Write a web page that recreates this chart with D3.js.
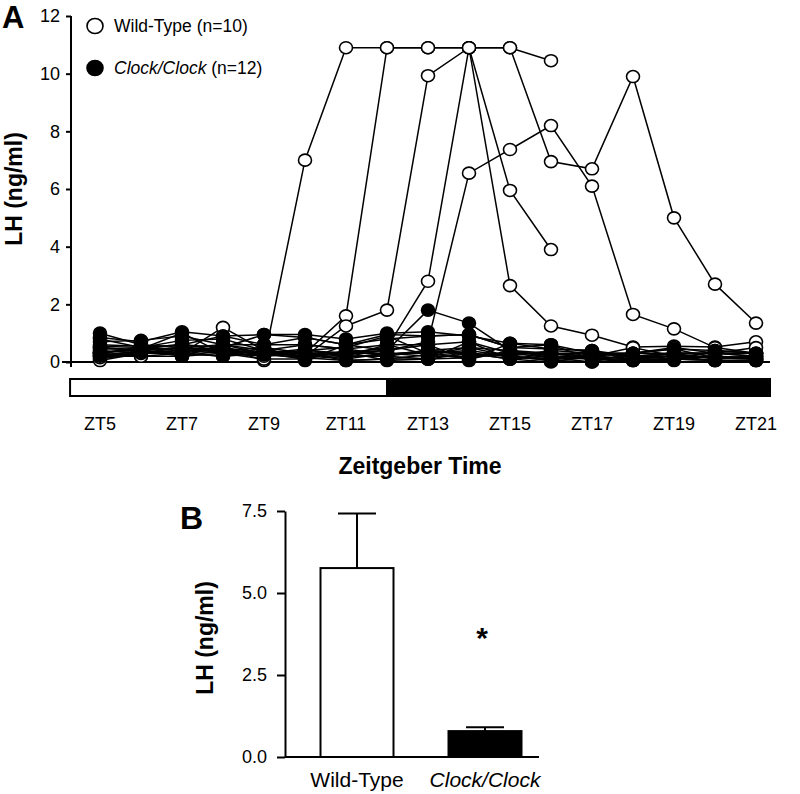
<!DOCTYPE html>
<html><head><meta charset="utf-8">
<script src="https://cdn.jsdelivr.net/npm/d3@7"></script>
<style>
html,body{margin:0;padding:0;background:#fff;}
svg{display:block;font-family:"Liberation Sans",Arial,Helvetica,sans-serif;}
</style></head>
<body><svg id="chart" width="800" height="794"></svg>
<script>
// ---------- DATA ----------
const hours = [5,6,7,8,9,10,11,12,13,14,15,16,17,18,19,20,21];
const xTickHours = [5,7,9,11,13,15,17,19,21];
const xTickLabels = ["ZT5","ZT7","ZT9","ZT11","ZT13","ZT15","ZT17","ZT19","ZT21"];
const yTicksA = [0,2,4,6,8,10,12];
const darkStart = 12;      // lights off at ZT12
const barSpan = [4.27, 21.34];

// Wild-type individual LH profiles (ng/ml); null = not sampled
const wt1  = [0.3,0.5,0.4,0.5,0.05,7.0,10.9,10.9,10.9,10.9,10.9,10.45,null,null,null,null,null];
const wt2  = [0.1,0.3,0.4,0.4,0.3,0.3,1.6,10.9,10.9,10.9,5.95,3.9,null,null,null,null,null];
const wt3  = [0.2,0.4,0.5,0.6,0.4,0.2,1.25,1.8,9.93,10.9,2.65,1.25,0.93,0.52,0.55,0.52,0.7];
const wt4  = [0.05,0.3,0.3,1.2,0.4,0.3,0.3,0.5,2.8,10.9,10.9,6.95,6.7,9.9,5.0,2.7,1.35];
const wt5  = [0.3,0.5,0.6,0.4,0.3,0.4,0.3,0.4,0.7,6.55,7.37,8.2,6.1,1.65,1.15,0.5,0.3];
const wt6  = [0.4,0.3,0.5,0.3,0.2,0.4,0.5,0.9,0.3,0.4,0.2,0.1,0.2,0.5,0.2,0.2,0.15];
const wt7  = [0.2,0.2,0.3,0.2,0.3,0.2,0.3,0.3,0.2,0.2,0.3,0.3,0.3,0.3,0.5,0.3,0.3];
const wt8  = [0.5,0.4,0.2,0.3,0.1,0.1,0.2,0.2,0.4,0.3,0.1,0.2,0.1,0.2,0.3,0.1,0.2];
const wt9  = [0.15,0.35,0.25,0.5,0.2,0.3,0.1,0.3,0.3,0.1,0.4,0.2,0.2,0.1,0.1,0.2,0.1];
const wt10 = [0.3,0.2,0.2,0.4,0.3,0.1,0.4,0.2,0.1,0.3,0.2,0.4,0.3,0.2,0.2,0.3,0.5];
const wildType = [wt1,wt2,wt3,wt4,wt5,wt6,wt7,wt8,wt9,wt10];

// Clock/Clock individual LH profiles (ng/ml)
const ck1  = [1.0,0.6,0.5,0.4,0.5,0.3,0.35,0.4,1.8,1.35,0.4,0.3,0.2,0.1,0.2,0.15,0.1];
const ck2  = [0.85,0.7,1.05,0.9,0.95,0.95,0.8,1.0,1.05,0.9,0.65,0.6,0.3,0.3,0.45,0.4,0.3];
const ck3  = [0.7,0.75,0.9,0.6,0.6,0.85,0.6,0.8,0.9,0.95,0.5,0.45,0.4,0.2,0.3,0.3,0.2];
const ck4  = [0.55,0.5,0.75,0.8,0.4,0.6,0.45,0.6,0.6,0.7,0.3,0.15,0.1,0.05,0.1,0.05,0.05];
const ck5  = [0.45,0.45,0.6,0.5,0.3,0.45,0.2,0.25,0.4,0.5,0.2,0.05,0.0,0.1,0.2,0.15,0.1];
const ck6  = [0.35,0.4,0.5,0.4,0.25,0.3,0.05,0.1,0.25,0.3,0.1,0.0,0.2,0.3,0.3,0.3,0.2];
const ck7  = [0.25,0.35,0.4,0.3,0.4,0.15,0.35,0.05,0.1,0.15,0.3,0.3,0.1,0.2,0.1,0.05,0.05];
const ck8  = [0.2,0.3,0.3,0.2,0.5,0.05,0.6,0.4,0.6,0.05,0.65,0.45,0.4,0.05,0.05,0.4,0.3];
const ck9  = [0.6,0.55,0.2,0.6,0.3,0.3,0.2,0.6,0.25,0.5,0.4,0.15,0.0,0.3,0.45,0.15,0.2];
const ck10 = [0.8,0.5,0.6,0.9,0.6,0.6,0.45,0.25,0.4,0.3,0.2,0.05,0.3,0.2,0.2,0.05,0.05];
const ck11 = [0.3,0.45,1.0,0.3,0.25,0.15,0.05,0.1,0.1,0.7,0.1,0.3,0.2,0.1,0.3,0.3,0.3];
const ck12 = [0.5,0.4,0.3,0.5,0.95,0.85,0.6,0.95,0.9,0.95,0.5,0.6,0.1,0.05,0.1,0.2,0.1];
const clockClock = [ck1,ck2,ck3,ck4,ck5,ck6,ck7,ck8,ck9,ck10,ck11,ck12];

// Panel B
const groups = ["Wild-Type","Clock/Clock"];
const means = [5.76, 0.79];
const sems = [1.66, 0.12];
const yTicksB = [0,2.5,5,7.5];

// ---------- DRAW ----------
const svg = d3.select("#chart");
const black = "#000";

// ===== Panel A =====
const xA = d3.scaleLinear().domain([5,21]).range([100,756]);
const yA = d3.scaleLinear().domain([0,12]).range([362,16]);

svg.append("text").attr("x",2).attr("y",28).attr("font-size",31).attr("font-weight","bold").text("A");

// y axis
const gyA = svg.append("g").attr("transform",`translate(${xA(5)-29},0)`)
  .call(d3.axisLeft(yA).tickValues(yTicksA).tickFormat(d3.format("d")).tickSize(5).tickSizeOuter(0).tickPadding(6));
gyA.select(".domain").attr("stroke-width",2).attr("d",`M0,${yA(12)}V${yA(0)+5}`);
gyA.selectAll(".tick line").attr("stroke-width",2);
gyA.selectAll("text").attr("font-size",18).attr("fill",black).attr("font-family","Liberation Sans, Arial, sans-serif");

// x axis baseline
svg.append("line").attr("x1",xA(5)-38).attr("x2",xA(barSpan[1])).attr("y1",yA(0)).attr("y2",yA(0))
  .attr("stroke",black).attr("stroke-width",2);

svg.append("text").attr("transform",`translate(22,${(yA(12)+yA(0))/2}) rotate(-90)`)
  .attr("text-anchor","middle").attr("font-size",23).attr("font-weight","bold").text("LH (ng/ml)");

// light/dark bar
svg.append("rect").attr("x",xA(barSpan[0])).attr("y",379).attr("width",xA(barSpan[1])-xA(barSpan[0])).attr("height",17)
  .attr("fill","#fff").attr("stroke",black).attr("stroke-width",2);
svg.append("rect").attr("x",xA(darkStart)).attr("y",379).attr("width",xA(barSpan[1])-xA(darkStart)).attr("height",17)
  .attr("fill",black).attr("stroke",black).attr("stroke-width",2);

// x tick labels
svg.selectAll(".ztl").data(xTickHours).enter().append("text")
  .attr("x",d=>xA(d)).attr("y",430).attr("text-anchor","middle").attr("font-size",18)
  .text((d,i)=>xTickLabels[i]);

svg.append("text").attr("x",420).attr("y",474).attr("text-anchor","middle").attr("font-size",23)
  .attr("font-weight","bold").text("Zeitgeber Time");

// lines
const line = d3.line().defined(d=>d.v!=null).x(d=>xA(d.h)).y(d=>yA(d.v));
const toPts = s => s.map((v,i)=>({h:hours[i],v:v}));
const gLines = svg.append("g");
gLines.selectAll(".wtl").data(wildType).enter().append("path")
  .attr("d",s=>line(toPts(s))).attr("fill","none").attr("stroke",black).attr("stroke-width",1.5);
gLines.selectAll(".ckl").data(clockClock).enter().append("path")
  .attr("d",s=>line(toPts(s))).attr("fill","none").attr("stroke",black).attr("stroke-width",1.5);

// markers
function markers(series, fill){
  const g = svg.append("g");
  series.forEach(s=>{
    g.selectAll(null).data(toPts(s).filter(d=>d.v!=null)).enter().append("ellipse")
      .attr("cx",d=>xA(d.h)).attr("cy",d=>yA(d.v)).attr("rx",6.5).attr("ry",6)
      .attr("fill",fill).attr("stroke",black).attr("stroke-width",1.6);
  });
}
markers(wildType,"#fff");
markers(clockClock,black);

// legend
svg.append("ellipse").attr("cx",95).attr("cy",26).attr("rx",8).attr("ry",7.5).attr("fill","#fff").attr("stroke",black).attr("stroke-width",1.6);
svg.append("ellipse").attr("cx",95).attr("cy",68).attr("rx",8).attr("ry",7.5).attr("fill",black).attr("stroke",black).attr("stroke-width",1.6);
svg.append("text").attr("x",114).attr("y",32).attr("font-size",17.5).text("Wild-Type (n=10)");
const lt = svg.append("text").attr("x",114).attr("y",74).attr("font-size",17.5);
lt.append("tspan").attr("font-style","italic").text("Clock/Clock");
lt.append("tspan").text(" (n=12)");

// ===== Panel B =====
const xB = d3.scalePoint().domain(groups).range([357,485]);
const yB = d3.scaleLinear().domain([0,7.5]).range([757,511]);
const barW = 73;

svg.append("text").attr("x",180).attr("y",529).attr("font-size",32).attr("font-weight","bold").text("B");

const gyB = svg.append("g").attr("transform","translate(285,0)")
  .call(d3.axisLeft(yB).tickValues(yTicksB).tickFormat(d3.format(".1f")).tickSize(8).tickSizeOuter(0).tickPadding(10));
gyB.select(".domain").attr("stroke-width",2);
gyB.selectAll(".tick line").attr("stroke-width",2);
gyB.selectAll("text").attr("font-size",18).attr("fill",black).attr("font-family","Liberation Sans, Arial, sans-serif");

svg.append("line").attr("x1",285).attr("x2",539).attr("y1",yB(0)).attr("y2",yB(0)).attr("stroke",black).attr("stroke-width",2);

svg.append("text").attr("transform",`translate(213,${(yB(0)+yB(7.5))/2 + 4}) rotate(-90)`)
  .attr("text-anchor","middle").attr("font-size",23).attr("font-weight","bold").text("LH (ng/ml)");

// error bars (upper only)
svg.selectAll(".eb").data(groups).enter().append("line")
  .attr("x1",d=>xB(d)).attr("x2",d=>xB(d)).attr("y1",(d,i)=>yB(means[i])).attr("y2",(d,i)=>yB(means[i]+sems[i]))
  .attr("stroke",black).attr("stroke-width",2);
svg.selectAll(".ec").data(groups).enter().append("line")
  .attr("x1",d=>xB(d)-19).attr("x2",d=>xB(d)+19).attr("y1",(d,i)=>yB(means[i]+sems[i])).attr("y2",(d,i)=>yB(means[i]+sems[i]))
  .attr("stroke",black).attr("stroke-width",2);

svg.selectAll(".bar").data(groups).enter().append("rect")
  .attr("x",d=>xB(d)-barW/2).attr("width",barW)
  .attr("y",(d,i)=>yB(means[i])).attr("height",(d,i)=>yB(0)-yB(means[i]))
  .attr("fill",(d,i)=>i===0?"#fff":black).attr("stroke",black).attr("stroke-width",2);

svg.append("text").attr("x",xB(groups[1])-3).attr("y",648).attr("text-anchor","middle")
  .attr("font-size",30).attr("font-weight","bold").text("*");

svg.selectAll(".bl").data(groups).enter().append("text")
  .attr("x",d=>xB(d)).attr("y",787).attr("text-anchor","middle").attr("font-size",21)
  .attr("font-style",(d,i)=>i===1?"italic":"normal").text(d=>d);
</script></body></html>
